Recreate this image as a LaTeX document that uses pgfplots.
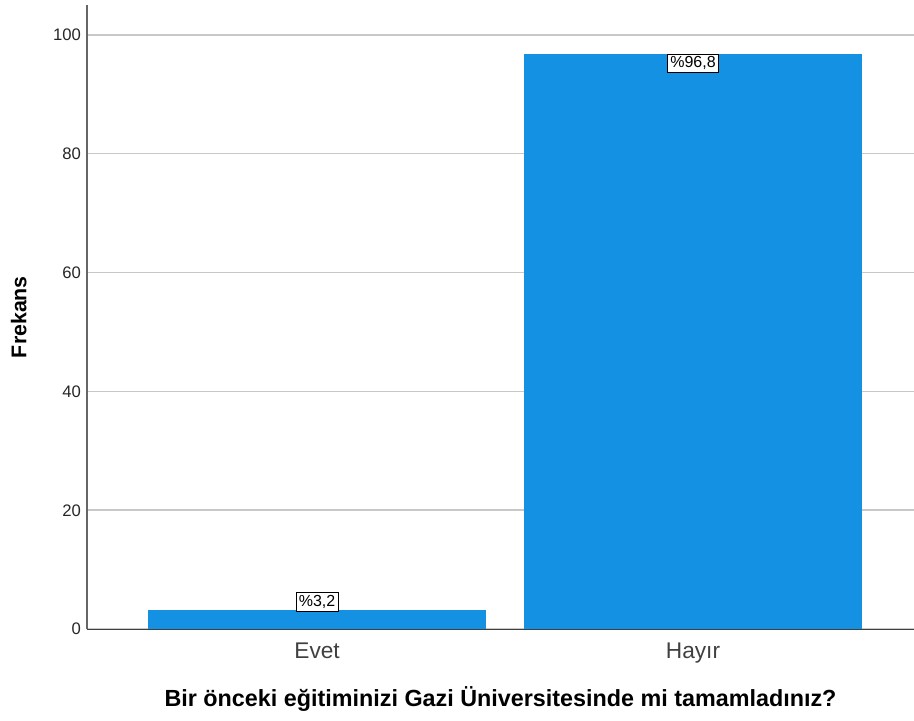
\documentclass[border=0pt]{standalone}
\usepackage{pgfplots}
\pgfplotsset{compat=1.18}
\usepackage{fontspec}
\setmainfont{Liberation Sans}
\definecolor{barblue}{RGB}{21,145,227}
\definecolor{gridgray}{RGB}{200,200,200}

\begin{document}
\begin{tikzpicture}
\begin{axis}[
  scale only axis,
  width=620pt, height=468pt,
  xmin=-0.612, xmax=1.588,
  ymin=0, ymax=105,
  axis x line*=bottom, axis y line*=left,
  axis line style={-, draw=black!60, line width=0.8pt},
  x axis line style={draw=black!75},
  xtick={0,1}, xticklabels={Evet,Hayır},
  ytick={0,20,40,60,80,100},
  major tick length=0pt,
  ymajorgrids, grid style={gridgray, line width=1.3pt},
  tick label style={font=\fontsize{12.5}{14}\selectfont, text=black!85},
  xticklabel style={font=\fontsize{17}{19}\selectfont, text=black!75, yshift=-7pt},
  yticklabel style={xshift=-1pt},
  /pgf/number format/assume math mode=true,
  xlabel={\textbf{Bir önceki eğitiminizi Gazi Üniversitesinde mi tamamladınız?}},
  ylabel={\textbf{Frekans}},
  xlabel style={font=\fontsize{17.5}{20}\selectfont, yshift=-10pt},
  ylabel style={font=\fontsize{16}{18}\selectfont, yshift=13pt},
  ybar, bar width=0.9,
  point meta=explicit symbolic,
  nodes near coords,
  every node near coord/.append style={font=\fontsize{12}{13}\selectfont, fill=white, draw=black, line width=0.6pt, inner sep=2pt, text=black},
]
\addplot[fill=barblue, draw=none, bar shift=0pt,
  every node near coord/.append style={anchor=south, yshift=-1pt}]
  coordinates {(0,3.2) [\%3,2]};
\addplot[fill=barblue, draw=none, bar shift=0pt,
  every node near coord/.append style={anchor=north, yshift=0pt}]
  coordinates {(1,96.8) [\%96,8]};
\end{axis}
\pgfresetboundingbox
\path (current axis.south west) ++(-65.25pt,-68.25pt) coordinate (bl);
\path (current axis.north east) ++(0pt,3.75pt) coordinate (tr);
\path (bl) rectangle (tr);
\end{tikzpicture}
\end{document}
